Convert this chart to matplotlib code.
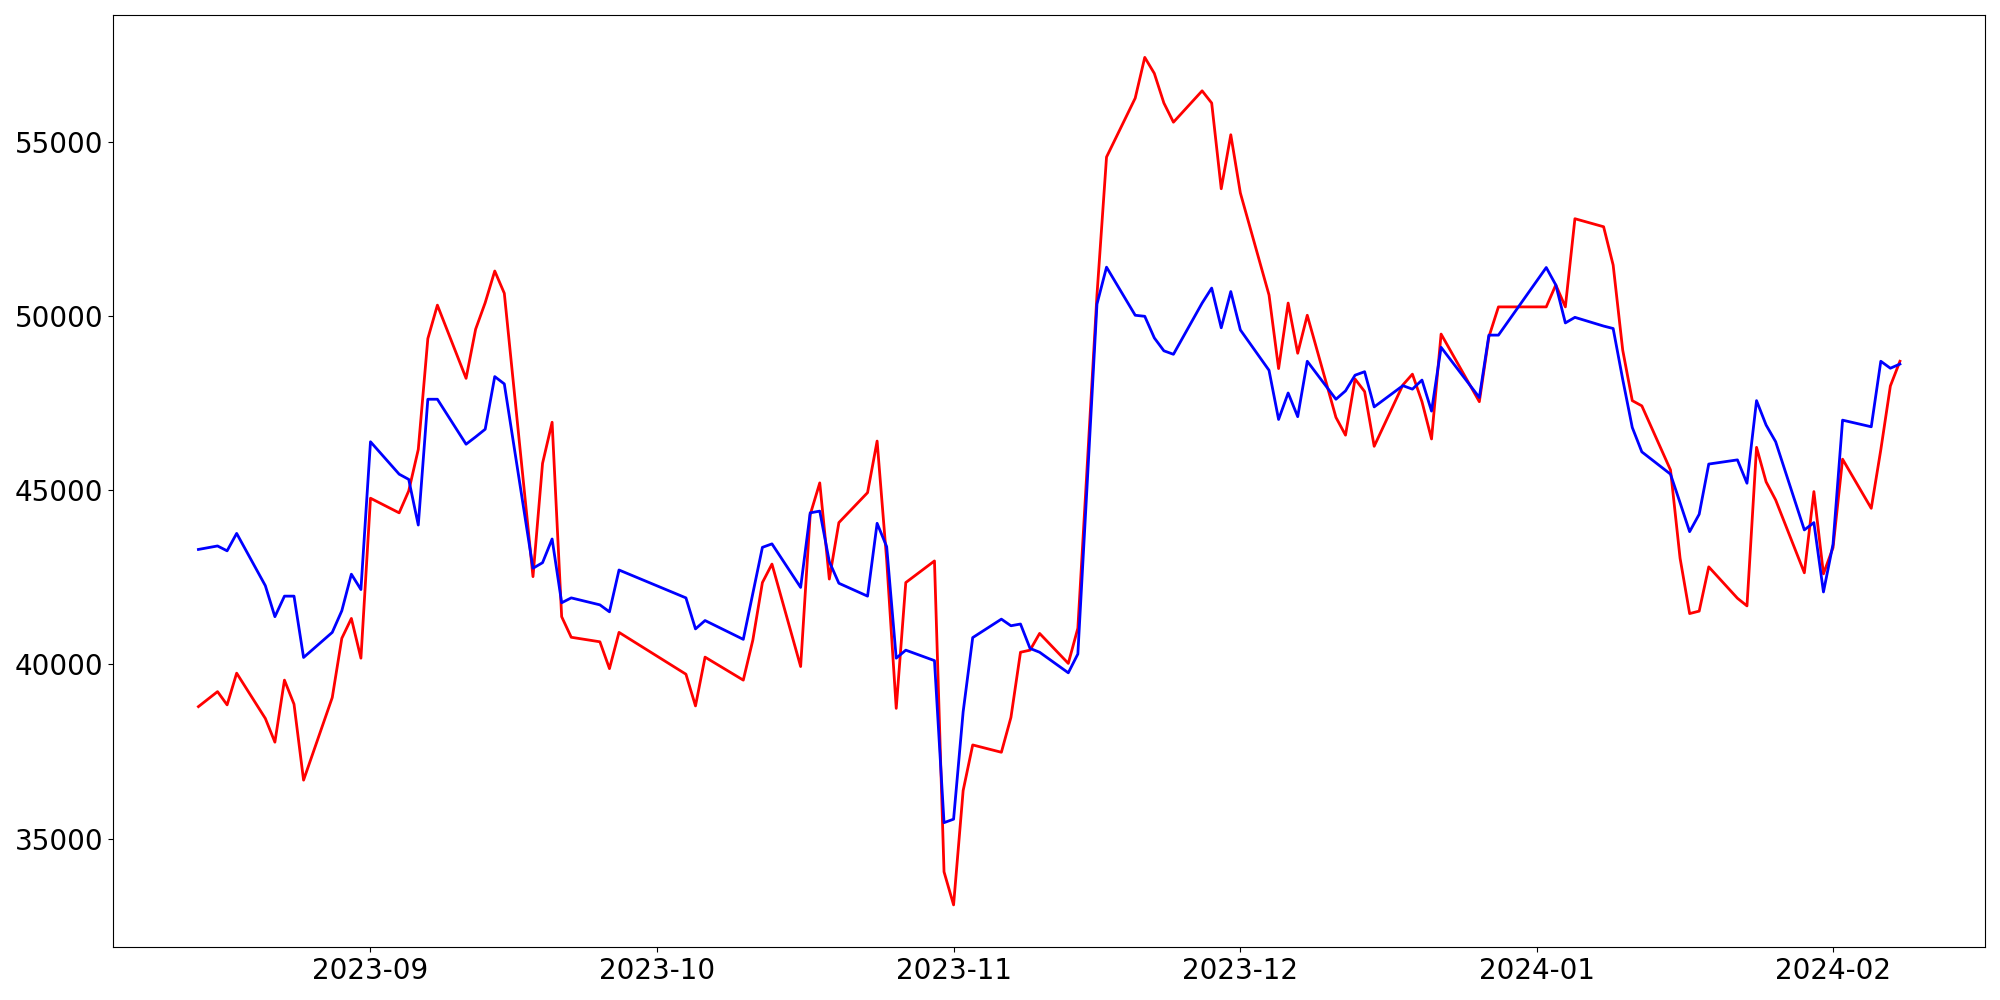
import pandas as pd
import matplotlib
matplotlib.use("Agg")
import matplotlib.pyplot as plt

# trading days (Korean market calendar), 2023-08-14 .. 2024-02-08
start_date = "2023-08-14"
end_date = "2024-02-08"
holidays = [
    "2023-08-15", "2023-09-28", "2023-09-29", "2023-10-02", "2023-10-03",
    "2023-10-09", "2023-12-25", "2023-12-29", "2024-01-01",
]

blue_values = [
    # Aug
    43300, 43400, 43260, 43760, 42260, 41370, 41960, 41960, 40200, 40920,
    41540, 42590, 42150,
    # Sep
    46390, 45460, 45310, 44000, 47610, 47610, 46320, 46530, 46750, 48260,
    48050, 42760, 42920, 43600, 41770, 41910, 41710, 41510, 42710,
    # Oct
    41910, 41020, 41260, 40720, 42040, 43360, 43460, 42210, 44350, 44400,
    42950, 42330, 41960, 44050, 43380, 40180, 40410, 40110, 35460,
    # Nov
    35560, 38640, 40770, 41300, 41110, 41160, 40460, 40350, 39760, 40300,
    45300, 50340, 51400, 50020, 49990, 49370, 49000, 48900, 50370, 50800,
    49660, 50700,
    # Dec
    49600, 48440, 47030, 47790, 47110, 48700, 47610, 47850, 48300, 48400,
    47390, 48000, 47900, 48160, 47270, 49100, 47660, 49450, 49450,
    # Jan
    51390, 50890, 49800, 49960, 49710, 49640, 48180, 46800, 46100, 45460,
    44640, 43810, 44310, 45750, 45870, 45200, 47570, 46870, 46390, 43860,
    44070, 42080,
    # Feb
    43450, 47010, 46820, 48700, 48500, 48620,
]

red_values = [
    # Aug
    38790, 39220, 38840, 39750, 38450, 37770, 39550, 38860, 36680, 39050,
    40750, 41320, 40180,
    # Sep
    44770, 44350, 44980, 46170, 49350, 50310, 48210, 49620, 50380, 51290,
    50650, 42520, 45770, 46950, 41370, 40780, 40650, 39880, 40920,
    # Oct
    39720, 38810, 40210, 39550, 40700, 42350, 42880, 39940, 44300, 45210,
    42450, 44070, 44930, 46410, 43000, 38740, 42350, 42970, 34050,
    # Nov
    33100, 36380, 37690, 37480, 38480, 40350, 40410, 40890, 40030, 41040,
    45800, 50600, 54560, 56250, 57420, 56960, 56110, 55560, 56460, 56110,
    53650, 55200,
    # Dec
    53530, 50600, 48490, 50370, 48930, 50020, 47090, 46580, 48190, 47830,
    46260, 48020, 48330, 47540, 46470, 49480, 47540, 49400, 50260,
    # Jan
    50260, 50890, 50260, 52790, 52560, 51460, 49020, 47570, 47420, 45580,
    43050, 41460, 41530, 42800, 41900, 41680, 46230, 45240, 44720, 42630,
    44960, 42600,
    # Feb
    43350, 45890, 44480, 46160, 47990, 48700,
]

dates = pd.bdate_range(start_date, end_date, freq="C", holidays=holidays)

fig, ax = plt.subplots(figsize=(20, 10), dpi=100)
ax.plot(dates, red_values, color="red", linewidth=2)
ax.plot(dates, blue_values, color="blue", linewidth=2)
ax.tick_params(axis="both", labelsize=20)
plt.tight_layout()
plt.savefig("out.png")
plt.close()
